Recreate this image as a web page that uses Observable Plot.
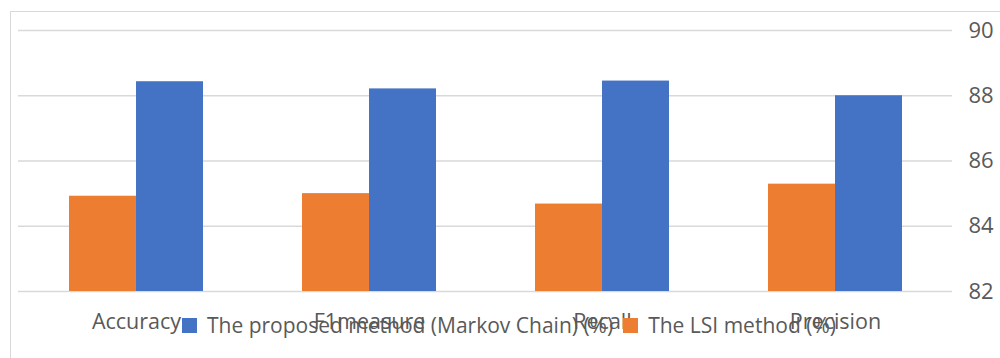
<!DOCTYPE html>
<html>
<head>
<meta charset="utf-8">
<script src="https://cdn.jsdelivr.net/npm/d3@7"></script>
<script src="https://cdn.jsdelivr.net/npm/@observablehq/plot@0.6"></script>
<style>
  html, body { margin: 0; padding: 0; background: #fff; }
  #wrap { position: relative; width: 1000px; height: 358px; overflow: hidden; font-family: "Open Sans", sans-serif; }
  #frame { position: absolute; left: 10px; top: 11px; width: 1200px; height: 600px; border-left: 1px solid #d9d9d9; border-top: 1px solid #d9d9d9; }
  #chart { position: absolute; left: 0; top: 0; }
  #legend { position: absolute; left: 182px; top: 311px; display: flex; align-items: center; font-size: 21px; color: #595959; white-space: nowrap; }
  .sw { display: inline-block; width: 15px; height: 15px; margin-right: 10px; }
  .item { display: flex; align-items: center; }
</style>
</head>
<body>
<div id="wrap">
  <div id="frame"></div>
  <div id="chart"></div>
  <div id="legend"></div>
</div>
<script>
const categories = ["Accuracy", "F1measure", "Recall", "Precision"];
const seriesNames = ["The LSI method (%)", "The proposed method (Markov Chain) (%)"];
const lsiValues = [84.92, 85.0, 84.68, 85.29];
const markovValues = [88.43, 88.21, 88.45, 88.0];
const yTicks = [82, 84, 86, 88, 90];
const colors = ["#ED7D31", "#4472C4"];

const lsiData = categories.map((c, i) => ({category: c, series: seriesNames[0], value: lsiValues[i]}));
const markovData = categories.map((c, i) => ({category: c, series: seriesNames[1], value: markovValues[i]}));

const xPadInner = 0.426, xPadOuter = 0.213;
const plotW = 1000 - 18 - 48;
const step = plotW / (categories.length - xPadInner + 2 * xPadOuter);
const half = step * (1 - xPadInner) / 2;

const chart = Plot.plot({
  width: 1000,
  height: 358,
  marginTop: 30,
  marginBottom: 67,
  marginLeft: 18,
  marginRight: 48,
  style: {fontFamily: "Open Sans, sans-serif", color: "#595959", background: "transparent"},
  x: {domain: categories, paddingInner: xPadInner, paddingOuter: xPadOuter, label: null},
  y: {domain: [82, 90], label: null},
  color: {domain: seriesNames, range: colors},
  marks: [
    Plot.gridY(yTicks, {stroke: "#d9d9d9", strokeOpacity: 1, strokeWidth: 1.5}),
    Plot.barY(lsiData, {x: "category", y1: 82, y2: "value", fill: "series", insetRight: half}),
    Plot.barY(markovData, {x: "category", y1: 82, y2: "value", fill: "series", insetLeft: half}),
    Plot.axisY(yTicks, {anchor: "right", tickSize: 0, tickPadding: 16, fontSize: 22, label: null, fill: "#595959"}),
    Plot.axisX({anchor: "bottom", tickSize: 0, tickPadding: 22, fontSize: 21.5, label: null, fill: "#595959"})
  ]
});
document.getElementById("chart").appendChild(chart);

const legend = document.getElementById("legend");
[1, 0].forEach((k, j) => {
  const item = document.createElement("span");
  item.className = "item";
  if (j > 0) item.style.marginLeft = "10px";
  const sw = document.createElement("span");
  sw.className = "sw";
  sw.style.background = colors[k];
  item.appendChild(sw);
  item.appendChild(document.createTextNode(seriesNames[k]));
  legend.appendChild(item);
});
</script>
</body>
</html>
